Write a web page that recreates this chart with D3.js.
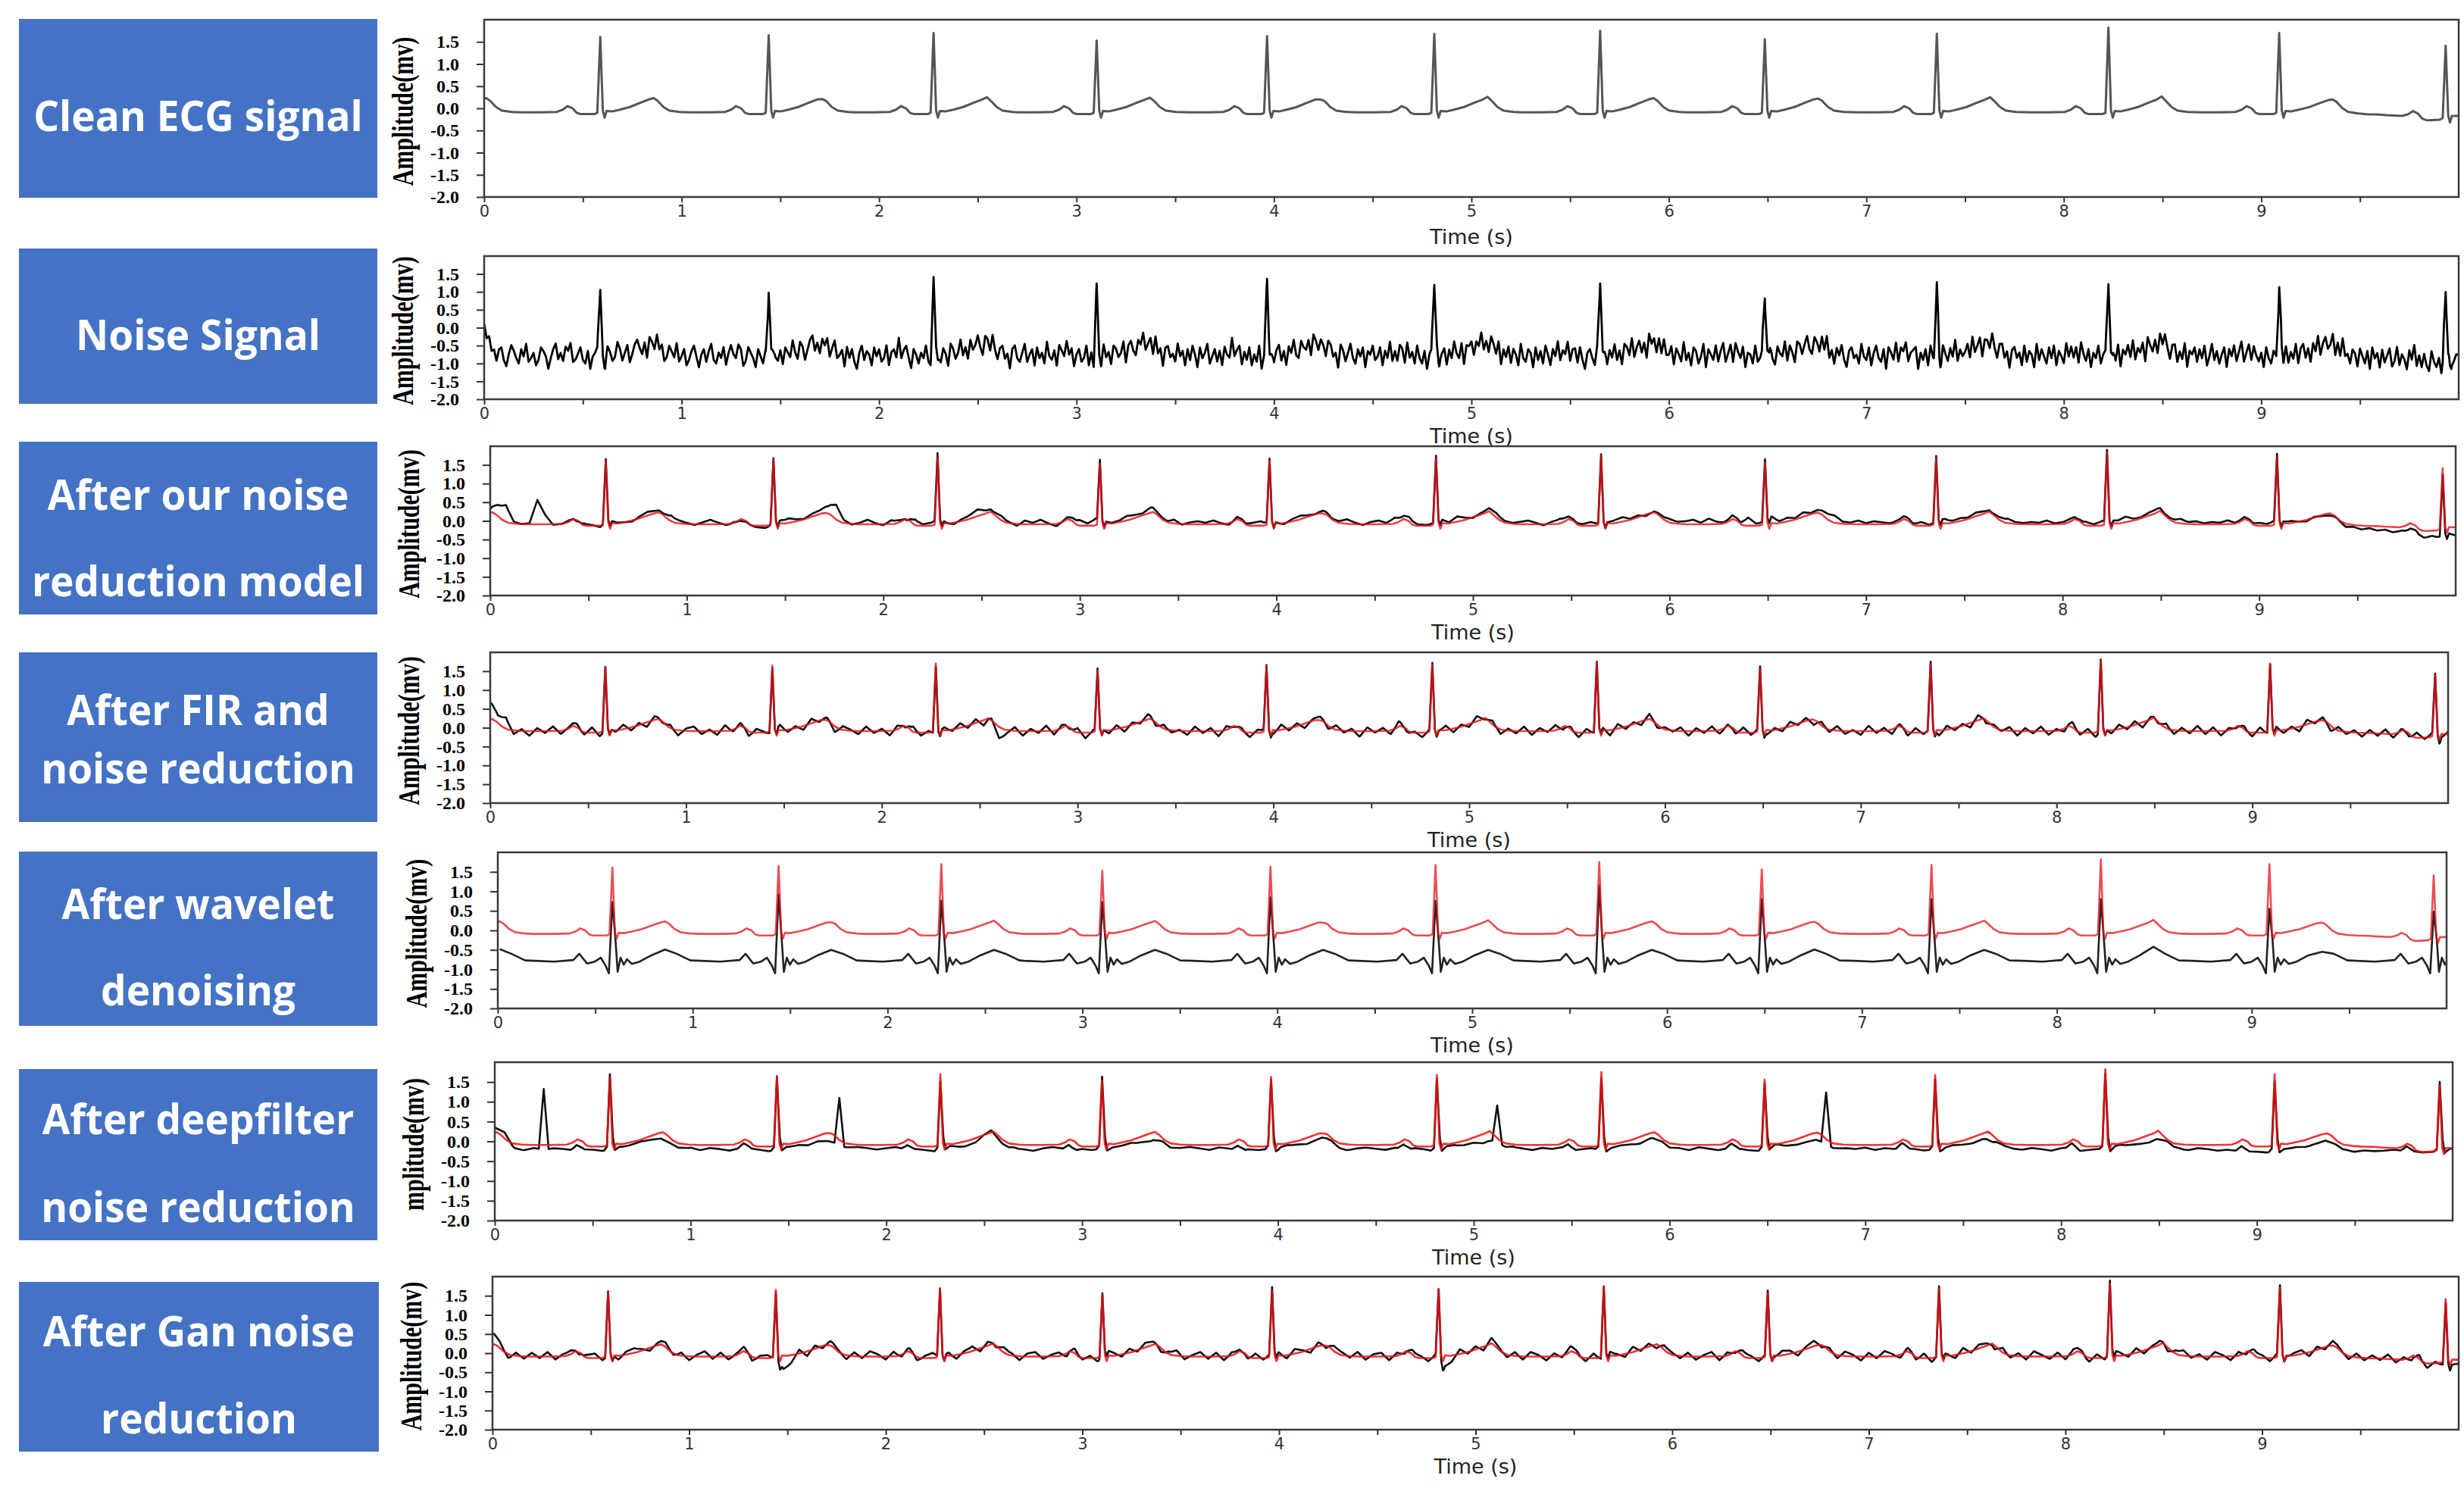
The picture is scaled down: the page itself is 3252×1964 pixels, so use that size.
<!DOCTYPE html>
<html>
<head>
<meta charset="utf-8">
<script src="https://cdn.jsdelivr.net/npm/d3@7"></script>
<style>
  body { margin: 0; background: #fff; }
</style>
</head>
<body>
<svg id="chart" width="3252" height="1964"></svg>
<script>
// ---- data ----
const yTicks = [-2.0, -1.5, -1.0, -0.5, 0.0, 0.5, 1.0, 1.5];
const xTicks = [0, 0.5, 1, 1.5, 2, 2.5, 3, 3.5, 4, 4.5, 5, 5.5, 6, 6.5, 7, 7.5, 8, 8.5, 9, 9.5];

// R-peak times (s); the first one sits just before 0 so its T wave opens the trace
const beatTimes = [-0.26, 0.588, 1.441, 2.276, 3.102, 3.965, 4.812, 5.652, 6.486, 7.357, 8.226, 9.091, 9.934];
const rPeak = [1.6, 1.61, 1.65, 1.70, 1.53, 1.63, 1.68, 1.75, 1.56, 1.68, 1.82, 1.70, 1.53];
const tPeak = [0.23, 0.23, 0.21, 0.25, 0.24, 0.20, 0.26, 0.23, 0.22, 0.25, 0.27, 0.22, 0.20];

// one clean beat, seconds from the R peak -> mV
const beatShape = [
  [-0.40, -0.09], [-0.30, -0.09], [-0.22, -0.08], [-0.19, -0.03], [-0.165, 0.05], [-0.14, 0.0],
  [-0.12, -0.10], [-0.10, -0.13], [-0.03, -0.13], [-0.015, -0.10], [0, "R"], [0.013, -0.05],
  [0.022, -0.21], [0.032, -0.06], [0.06, -0.07], [0.10, -0.03], [0.15, 0.03], [0.20, 0.12],
  [0.245, 0.20], [0.27, "T"], [0.29, 0.17], [0.32, 0.03], [0.35, -0.05], [0.40, -0.08]
];
const cleanDrift = [[0, 0], [9.2, 0], [9.6, -0.05], [9.85, -0.14], [10, -0.1]];

// noise signal: gain and offset of the ECG inside it, plus noise (1/100 mV, every 0.0125 s)
const noiseGain = 1.15;
const noiseOffset = -0.65;
const noise2 = [
  50, 10, 20, -15, -5, -30, 5, 15, -20, -35, 0, 25, 10, -10, -25, 15, -5, 30, -20, -10,
  5, -30, -15, 20, 10, -5, -40, -10, 15, 30, -15, 0, -25, 10, -5, 20, -30, -15, 5, 25,
  -10, -20, 15, -35, 0, 10, 25, -15, -5, -30, 20, 5, -20, -10, 30, 10, -25, -5, 15, -35,
  -15, 10, 20, -5, -25, 5, -40, 15, 0, -20, 25, -10, 10, -30, -15, 20, 5, -10, 30, -20,
  -5, 15, -30, -15, 10, 25, -5, -35, 0, 15, -20, 10, 30, -15, -25, 5, -10, 20, -30, 0,
  20, -10, -25, 15, 5, -35, -15, 25, 10, -5, -30, 20, 0, -20, 15, -40, 5, 25, -10, -20,
  10, -30, 15, 0, -15, 30, -5, -25, 20, 5, -35, -10, 15, 25, -20, 0, -30, 10, -5, 20,
  -25, 5, 30, -15, -5, 10, -35, 20, -10, 15, -20, -40, 5, 25, -15, 10, 0, -30, 20, -5,
  15, -20, -10, 25, -30, 5, 10, -15, 35, -25, 0, 15, -10, -35, 20, 5, -20, 10, -5, 30,
  -15, -30, 10, 20, -5, -25, 15, 0, -35, 25, 10, -20, -5, 30, -15, 5, -30, 20, -10, 0,
  25, -10, -35, 15, 5, -20, 30, -5, -25, 10, 20, -15, 0, -40, 15, 25, -10, -20, 5, 30,
  -20, 0, 15, -30, 20, -10, 5, -25, 35, -5, -15, 10, -35, 20, 0, -20, 25, -10, 15, -30,
  5, 20, -15, -5, 30, -25, 10, -35, 15, 0, -20, 25, -10, 5, -30, 20, 10, -15, -5, 25,
  -35, 10, 20, -10, -25, 15, 0, 30, -20, -5, 10, -30, 25, -15, 5, -40, 15, 20, -10, 0,
  -20, 30, -5, 10, -30, 15, -15, 25, 0, -35, 20, -10, 5, 30, -25, -5, 15, -20, 10, -30,
  20, -5, -15, 35, -20, 0, 15, -30, 10, -10, 25, -25, 5, -15, 30, -35, 0, 20, -10, 15,
  -25, 10, 25, -20, 5, -35, 15, -5, 30, -15, -25, 20, 0, -10, 15, -30, 25, 5, -20, 10,
  -5, -30, 20, 15, -15, 0, -40, 25, 10, -20, 5, 30, -10, -25, 15, -5, 20, -35, 10, 0,
  25, -15, -5, 20, -30, 10, -10, 35, -20, 5, -25, 15, 0, -35, 25, -10, 10, -20, 30, -5,
  -20, 15, -35, 5, 20, -10, 25, -25, 0, 15, -30, 10, -15, 30, -5, -20, 20, -40, 10, 5,
  15, -25, 10, -5, 30, -20, 0, -30, 20, 5, -15, 25, -35, 10, -10, 20, -25, 15, 0, -30,
  30, -10, -20, 15, 5, -35, 20, -15, 10, -25, 25, 0, -30, 15, -5, 35, -20, 5, -10, 20,
  -30, 5, 15, -20, 25, -10, -35, 10, 20, -5, -25, 30, -15, 0, 20, -30, 10, -10, 25, -20,
  5, -35, 20, 10, -15, 30, -25, 0, 15, -20, 5, -40, 25, -5, 10, -25, 20, -15, 30, -10,
  -5, 20, -30, 15, 0, -20, 35, -15, 5, -30, 20, 10, -25, -5, 30, -35, 15, 0, -15, 25,
  -20, 10, 30, -25, -5, 15, -35, 20, 0, -10, 25, -30, 10, 5, -20, 30, -15, -5, 20, -40,
  10, 25, -15, -30, 20, 0, -10, 30, -25, 15, -5, -35, 20, 10, -20, 5, 25, -15, -30, 15,
  0, -25, 20, -10, 35, -20, 5, -30, 15, -5, 25, -15, -35, 10, 20, -10, 0, -25, 30, -5,
  -15, 20, -30, 5, 25, -10, -20, 15, -40, 20, 5, -15, 30, -25, 10, -5, 20, -30, 0, 15,
  25, -35, 10, -10, 20, -25, 30, -5, -15, 10, -30, 25, 0, -20, 15, -10, 35, -25, 5, -15,
  -5, 15, -25, 30, -15, 0, 20, -35, 10, 5, -20, 25, -10, -30, 15, 20, -15, 5, -40, 10,
  20, -10, 5, -30, 25, -20, 10, 0, -35, 30, -15, 15, -5, -25, 20, -10, 25, -30, 10, -5,
  -25, 30, -10, 15, -20, 5, -35, 25, 0, -15, 20, -30, 10, -5, 30, -20, 5, 15, -25, 0,
  15, -20, 25, -35, 10, -5, 20, -15, 30, -25, 5, -10, 15, -40, 25, 0, -20, 10, -30, 20,
  -10, 25, -5, -30, 15, 20, -25, 5, -15, 30, -35, 10, 0, 20, -20, 15, -10, 25, -30, -5,
  30, -15, 10, -25, 0, 20, -35, 15, -5, 25, -20, 5, 30, -30, -10, 15, -25, 20, 0, -15,
  10, -30, 25, -5, -20, 15, 0, -35, 30, -10, 20, -25, 5, -15, 25, -30, 10, 20, -20, 5,
  -35, 15, -10, 30, -25, 5, 20, -15, -5, 25, -30, 10, -20, 35, -10, 0, -25, 15, 5, -30,
  20, 0, -20, 15, -35, 25, -5, 10, -30, 20, -15, 5, 25, -25, -10, 30, -20, 10, -5, -35,
  15, -15, 25, -30, 5, -20, 20, -10, -25, 30, 0, -15, 10, -35, 20, -5, 15, -25, -10, 10
];

// residual left by our model (1/100 mV, every 0.04 s)
const resid3 = [
  10, 30, 45, 5, 0, 3, 65, 25, -2, 0, 4, -3, 5, 2, -4, 8, 3, 0, -3, 5,
  10, 6, 4, 15, 8, 3, -2, 5, 12, 4, -3, 2, -5, 0, -4, -6, 3, 8, 12, 5,
  2, 8, 10, 20, 40, 8, -2, 4, 12, 3, -3, 10, 6, -2, 15, 4, 8, 12, 2, -4,
  5, 10, 18, 8, 5, 12, 3, -5, 10, 4, 12, 2, -6, 3, 8, 15, 6, 18, 5, 2,
  4, 12, 8, 5, 14, 6, 3, 10, -2, 5, 8, 4, 10, 2, -4, 6, 3, 8, 12, 4,
  2, -3, 6, 10, 4, 0, 8, 3, 5, 12, 4, -2, 6, 10, 3, 15, 8, 12, 4, 2,
  5, 10, 3, 14, 6, -2, 4, 8, 12, 5, 2, 6, 10, 4, -3, 6, 12, 8, 3, 5,
  10, 4, 2, 8, 12, 3, 5, -4, 2, 6, 10, 5, 8, 12, 4, 15, 6, 3, 10, 4,
  22, 6, 8, 18, 5, 10, 4, 12, 3, 8, 15, 20, 6, 4, 10, 3, 8, 5, 2, 6,
  8, 4, 10, 3, 6, 12, 5, 8, 4, 10, 6, 2, 8, 12, 5, 3, 6, 4, 10, 2,
  5, 8, 3, 10, 4, 12, 6, 8, 15, 5, 3, 8, 10, 4, 6, 12, 5, 8, 3, 6,
  4, 10, 2, 6, 3, 8, 5, 12, 4, 6, 0, -4, 2, -3, -6, 0, -8, -5, -10, -6,
  -12, -8, -14, -10, -15, -12, -18, -14, -20, -16, -22, -18, -20, -15, -22, -18, -20, -16, -18, -15
];

// residual after FIR (1/100 mV, every 0.04 s)
const resid4 = [
  45, 20, 30, -10, 5, -12, 8, -5, 12, -8, 3, 10, -6, 14, -10, 5, -4, 12, -8, 6,
  -12, 10, -3, 8, -14, 6, 12, -8, 4, -10, 15, -5, 8, -12, 10, 2, -8, 14, -6, 5,
  -10, 12, -4, 8, -15, 10, 3, -8, 12, -5, 6, -12, 10, -3, 14, -8, 5, -10, 8, -4,
  12, -6, 10, -14, 5, -30, -8, 10, -12, 6, -5, 14, -10, 8, -4, 12, -15, 6, 3, -8,
  10, -12, 6, -4, 14, -8, 10, -6, 3, -10, 12, -5, 8, -14, 10, -3, 6, -12, 8, 5,
  -10, 14, -6, 8, -12, 4, 10, -8, 12, -5, 6, -15, 10, -4, 8, -10, 14, -6, 3, -12,
  8, -5, 12, -10, 6, -8, 14, -4, 10, -12, 5, -6, 12, -10, 8, -3, 14, -8, 6, -12,
  10, -4, 8, -14, 12, -6, 5, -10, 14, -8, 6, -3, 10, -12, 8, -5, 12, -10, 4, -8,
  14, -6, 10, -12, 5, -8, 12, -4, 8, -14, 10, -6, 12, -8, 3, -10, 14, -5, 8, -12,
  6, -10, 12, -4, 8, -14, 10, -6, 5, -12, 14, -8, 6, -3, 10, -12, 8, -6, 12, -10,
  5, -8, 14, -6, 10, -12, 4, -8, 12, -5, 10, -14, 6, -4, 12, -10, 8, -6, 14, -8,
  10, -12, 6, -4, 8, -10, 14, -6, 10, -8, 5, -12, 12, -4, 8, -14, 10, -6, 6, -10,
  8, -6, 12, -10, 5, -8, 14, -4, 10, -12, 6, -15, -10, -20, -12, -25, -15, -10, -18, -12
];

// wavelet output: its own beat shape and peaks
const waveShape = [
  [-0.40, -0.78], [-0.30, -0.80], [-0.20, -0.76], [-0.17, -0.60], [-0.13, -0.85], [-0.09, -0.80],
  [-0.06, -0.70], [-0.035, -0.90], [-0.018, -1.10], [0, "R"], [0.016, -0.25], [0.027, -1.06],
  [0.042, -0.70], [0.058, -0.88], [0.075, -0.74], [0.10, -0.86], [0.14, -0.80], [0.20, -0.64],
  [0.27, "T"], [0.33, -0.60], [0.40, -0.77]
];
const rWave = [0.8, 0.72, 0.92, 0.76, 0.72, 0.85, 0.75, 1.15, 0.80, 0.80, 0.80, 0.55, 0.48];
const tWave = [-0.48, -0.49, -0.50, -0.50, -0.50, -0.50, -0.50, -0.50, -0.49, -0.50, -0.42, -0.55, -0.60];

// deepfilter output: flattened beats, stray peaks and a little noise
const deepShape = [
  [-0.40, -0.20], [-0.20, -0.19], [-0.17, -0.08], [-0.13, -0.22], [-0.03, -0.22], [-0.015, -0.14],
  [0, "R"], [0.015, 0.10], [0.025, -0.24], [0.05, -0.14], [0.10, -0.13], [0.18, -0.06],
  [0.26, "T"], [0.31, -0.02], [0.35, -0.16], [0.40, -0.20]
];
const rDeep = [1.6, 1.68, 1.62, 1.50, 1.60, 1.55, 1.60, 1.60, 1.45, 1.55, 1.70, 1.55, 1.55];
const tDeep = [0.20, 0.05, 0.0, 0.25, 0.05, 0.05, 0.0, 0.05, 0.0, 0.05, 0.05, 0.05, 0.0];
const deepStray = [[0.25, 1.53], [1.76, 1.17], [5.12, 0.90], [6.80, 1.30]];
const resid6 = [
  15, 25, 0, -2, 3, -1, 2, 0, -3, 2, 1, -2, 3, 0, 4, 8, 6, 2, -3, 1,
  4, -2, 3, 0, -4, 2, 5, 1, -3, 2, 0, 3, -2, 4, 1, -3, 2, 6, 3, -1,
  2, 5, -2, 3, 0, -3, 4, 1, -2, 3, 6, 2, -1, 3, 0, -4, 2, 5, 1, -2,
  3, 0, 4, -2, 2, 5, 1, -3, 2, 0, 3, 6, 2, -2, 4, 1, -3, 2, 0, 3,
  -2, 4, 2, -1, 3, 6, 0, -3, 2, 4, 1, -2, 3, 0, 5, 2, -3, 1, 4, 0,
  2, -3, 4, 1, 6, 2, -2, 3, 0, 4, -1, 2, 5, 0, -3, 3, 1, -2, 4, 2,
  0, 3, -2, 5, 1, -3, 2, 4, 0, -2, 3, 6, 1, -1, 2, 4, -3, 0, 3, 1,
  4, -2, 2, 0, 5, 3, -1, 2, -3, 4, 1, 0, 3, -2, 6, 2, -1, 3, 0, -4,
  2, 4, -2, 1, 3, -1, 5, 2, 0, -3, 2, 4, 1, -2, 3, 0, -4, -2, -5, -3,
  -4, -6, -3, -5, -2, -6, -4, -3, -5, -4, -6, -3, -5, -4, -2, -5, -3, -6, -4, -5
];

// residual after the GAN (1/100 mV, every 0.04 s)
const resid7 = [
  30, 15, -10, 8, -6, 10, -4, 12, -8, 6, 10, -5, 8, 12, -6, 4, -10, 8, 12, 4,
  -8, 6, 12, -4, 8, -10, 5, 14, -6, 10, -8, 4, 12, -10, 6, 8, -6, -35, -20, 10,
  -12, 8, -6, 12, 4, -10, 10, -4, 14, 6, -8, 12, -5, 10, -8, 6, 14, -4, 8, -10,
  6, 12, -8, 10, -4, 14, 6, -10, 8, 12, -6, 4, 10, -8, 12, -4, 6, -10, 14, 8,
  -6, 10, -4, 12, 8, -10, 6, 14, -8, 4, 12, -6, 10, -10, 8, 4, -6, 12, -4, 10,
  8, -8, 12, 4, -10, 10, -6, 14, 8, -4, 12, -8, 6, 10, -10, 8, -4, 12, 6, -8,
  10, -30, -15, 12, -4, 8, -10, 14, 6, -6, 10, -8, 12, 4, -10, 8, -4, 14, 6, -8,
  12, -6, 10, 4, -8, 14, -4, 8, -10, 12, 6, -6, 10, -8, 4, 12, -10, 8, -4, 14,
  6, -8, 10, -4, 12, 8, -10, 6, 14, -6, 8, -8, 12, 4, -10, 10, -4, 14, 6, -8,
  10, -6, 12, -10, 8, 4, -8, 14, -4, 10, 6, -10, 12, -6, 8, -8, 14, 4, -6, 10,
  -8, 12, 6, -10, 10, -4, 14, 8, -6, 12, -8, 4, 10, -10, 8, 14, -4, 6, -8, 12,
  4, -10, 10, -6, 14, 8, -8, 12, -4, 6, 10, -10, 8, -6, 12, 4, -8, 10, -6, 8,
  -4, 12, -8, 6, -10, 10, -12, 4, -8, -14, -10, -6, -12, -8, -10, -6, -8, -10, -6, -8
];

const boxLabels = [
  ["Clean ECG signal"],
  ["Noise Signal"],
  ["After our noise", "reduction model"],
  ["After FIR and", "noise reduction"],
  ["After wavelet", "denoising"],
  ["After deepfilter", "noise reduction"],
  ["After Gan noise", "reduction"]
];
const yLabels = ["Amplitude(mv)", "Amplitude(mv)", "Amplitude(mv)", "Amplitude(mv)",
  "Amplitude(mv)", "mplitude(mv)", "Amplitude(mv)"];

// ---- layout (px) ----
const layout = [
  { box: [25, 25, 498, 261], base: [173], frame: [639, 26, 3245, 260], timeY: 62 },
  { box: [25, 328, 498, 533], base: [462], frame: [639, 338, 3245, 527], timeY: 58 },
  { box: [25, 583, 498, 811], base: [673, 787], frame: [647, 589, 3241, 786], timeY: 58 },
  { box: [25, 861, 498, 1085], base: [957, 1034], frame: [647, 861, 3231, 1060], timeY: 58 },
  { box: [25, 1124, 498, 1354], base: [1213, 1327], frame: [657, 1125, 3229, 1331], timeY: 58 },
  { box: [25, 1411, 498, 1637], base: [1497, 1613], frame: [653, 1402, 3237, 1611], timeY: 58 },
  { box: [25, 1692, 500, 1916], base: [1777, 1892], frame: [650, 1685, 3245, 1887], timeY: 58 }
];

// ---- helpers ----
const bisect = d3.bisector(d => d[0]).left;
function valueAt(pts, t) {
  let n = pts.length;
  if (t <= pts[0][0]) return pts[0][1];
  if (t >= pts[n - 1][0]) return pts[n - 1][1];
  let i = bisect(pts, t);
  let a = pts[i - 1], b = pts[i];
  if (b[0] === t) return b[1];
  return a[1] + (b[1] - a[1]) * (t - a[0]) / (b[0] - a[0]);
}
function placeBeats(shape, named) {
  let out = [];
  beatTimes.forEach((t0, i) => {
    shape.forEach(([dt, v]) => {
      out.push([t0 + dt, typeof v === "string" ? named[v][i] : v]);
    });
  });
  return out.sort((a, b) => a[0] - b[0]);
}
function onGrid(vals, dt) {
  return vals.map((v, i) => [i * dt, v / 100]);
}
function strays(list) {
  let out = [[0, 0]];
  list.forEach(([t, h]) => out.push([t - 0.025, 0], [t, h], [t + 0.025, 0]));
  out.push([10, 0]);
  return out;
}
// sum of piecewise-linear parts, kept at all their break points
function combine(parts) {
  let ts = new Set();
  parts.forEach(p => p.pts.forEach(d => ts.add(+d[0].toFixed(4))));
  ts = Array.from(ts).filter(t => t >= -0.05 && t <= 10.05).sort((a, b) => a - b);
  return ts.map(t => [t, d3.sum(parts, p => (p.gain == null ? 1 : p.gain) * valueAt(p.pts, t))]);
}

const cleanBeats = placeBeats(beatShape, { R: rPeak, T: tPeak });
const clean = combine([{ pts: cleanBeats }, { pts: cleanDrift }]);

const traces = [
  [{ data: clean, color: "#555", width: 3 }],
  [{ data: combine([{ pts: clean, gain: noiseGain }, { pts: [[0, noiseOffset], [10, noiseOffset]] }, { pts: onGrid(noise2, 0.0125) }]), color: "#000", width: 2.8 }],
  [{ data: combine([{ pts: clean }, { pts: onGrid(resid3, 0.04) }]), color: "#111", width: 2.6 },
   { data: clean, color: "#e3121b", width: 2.6, opacity: 0.8 }],
  [{ data: combine([{ pts: clean }, { pts: onGrid(resid4, 0.04) }]), color: "#111", width: 2.6 },
   { data: clean, color: "#e3121b", width: 2.6, opacity: 0.8 }],
  [{ data: combine([{ pts: placeBeats(waveShape, { R: rWave, T: tWave }) }]), color: "#222", width: 2.6 },
   { data: clean, color: "#e3121b", width: 2.6, opacity: 0.75 }],
  [{ data: combine([{ pts: placeBeats(deepShape, { R: rDeep, T: tDeep }) }, { pts: onGrid(resid6, 0.05) }, { pts: strays(deepStray) }]), color: "#111", width: 2.6 },
   { data: clean, color: "#ee1111", width: 2.6, opacity: 0.85 }],
  [{ data: combine([{ pts: clean }, { pts: onGrid(resid7, 0.04) }]), color: "#111", width: 2.6 },
   { data: clean, color: "#e3121b", width: 2.6, opacity: 0.85 }]
];

// ---- drawing ----
const svg = d3.select("#chart");
svg.append("rect").attr("width", 3252).attr("height", 1964).attr("fill", "#fff");

layout.forEach((lay, k) => {
  let [bx0, by0, bx1, by1] = lay.box;
  let [L, T, R, B] = lay.frame;
  let g = svg.append("g");

  // blue label box
  g.append("rect")
    .attr("x", bx0).attr("y", by0)
    .attr("width", bx1 - bx0).attr("height", by1 - by0)
    .attr("fill", "#4472c4");
  boxLabels[k].forEach((line, j) => {
    let t = g.append("text")
      .attr("x", (bx0 + bx1) / 2)
      .attr("y", lay.base[j])
      .attr("text-anchor", "middle")
      .attr("fill", "#fff")
      .style("font-family", "'Open Sans', 'Noto Sans', sans-serif")
      .style("font-weight", 700)
      .style("font-size", "56px")
      .text(line);
    let w = t.node().getComputedTextLength();
    t.attr("textLength", w * 0.95).attr("lengthAdjust", "spacingAndGlyphs");
  });

  let x = d3.scaleLinear().domain([0, 10]).range([L, R]);
  let y = d3.scaleLinear().domain([-2, 2]).range([B, T]);

  // y axis
  let ya = g.append("g")
    .attr("transform", "translate(" + L + ",0)")
    .call(d3.axisLeft(y).tickValues(yTicks).tickSize(10).tickPadding(23).tickFormat(d => d.toFixed(1)));
  ya.select(".domain").remove();
  ya.selectAll(".tick line").attr("stroke", "#333").attr("stroke-width", 2);
  ya.selectAll(".tick text")
    .attr("fill", "#000")
    .style("font-family", "'Liberation Serif', 'Times New Roman', serif")
    .style("font-weight", 700)
    .style("font-size", "24px");

  // x axis
  let xa = g.append("g")
    .attr("transform", "translate(0," + B + ")")
    .call(d3.axisBottom(x).tickValues(xTicks).tickSize(7).tickPadding(4)
      .tickFormat(d => Number.isInteger(d) ? d : ""));
  xa.select(".domain").remove();
  xa.selectAll(".tick line").attr("stroke", "#333").attr("stroke-width", 2);
  xa.selectAll(".tick text")
    .attr("fill", "#333")
    .style("fill", "#333")
    .style("font-family", "'DejaVu Sans', sans-serif")
    .style("font-size", "21px");

  g.append("text")
    .attr("x", (L + R) / 2)
    .attr("y", B + lay.timeY)
    .attr("text-anchor", "middle")
    .attr("fill", "#222")
    .style("font-family", "'DejaVu Sans', sans-serif")
    .style("font-size", "27px")
    .text("Time (s)");

  // rotated axis title, squeezed along its length like the original
  g.append("text")
    .attr("transform", "translate(" + (L - 94) + "," + ((T + B) / 2 + 4) + ") rotate(-90) scale(0.75,1)")
    .attr("text-anchor", "middle")
    .attr("fill", "#000")
    .style("font-family", "'Liberation Serif', 'Times New Roman', serif")
    .style("font-weight", 700)
    .style("font-size", "40px")
    .text(yLabels[k]);

  // traces
  let clipId = "clip" + k;
  g.append("clipPath").attr("id", clipId)
    .append("rect").attr("x", L).attr("y", T).attr("width", R - L).attr("height", B - T);
  let line = d3.line().x(d => x(d[0])).y(d => y(d[1]));
  traces[k].forEach(s => {
    g.append("path")
      .attr("clip-path", "url(#" + clipId + ")")
      .attr("d", line(s.data))
      .attr("fill", "none")
      .attr("stroke", s.color)
      .attr("stroke-width", s.width)
      .attr("stroke-opacity", s.opacity || 1)
      .attr("stroke-linejoin", "round");
  });

  // frame
  g.append("rect")
    .attr("x", L).attr("y", T)
    .attr("width", R - L).attr("height", B - T)
    .attr("fill", "none")
    .attr("stroke", "#3a3a3a")
    .attr("stroke-width", 2.5);
});
</script>
</body>
</html>
